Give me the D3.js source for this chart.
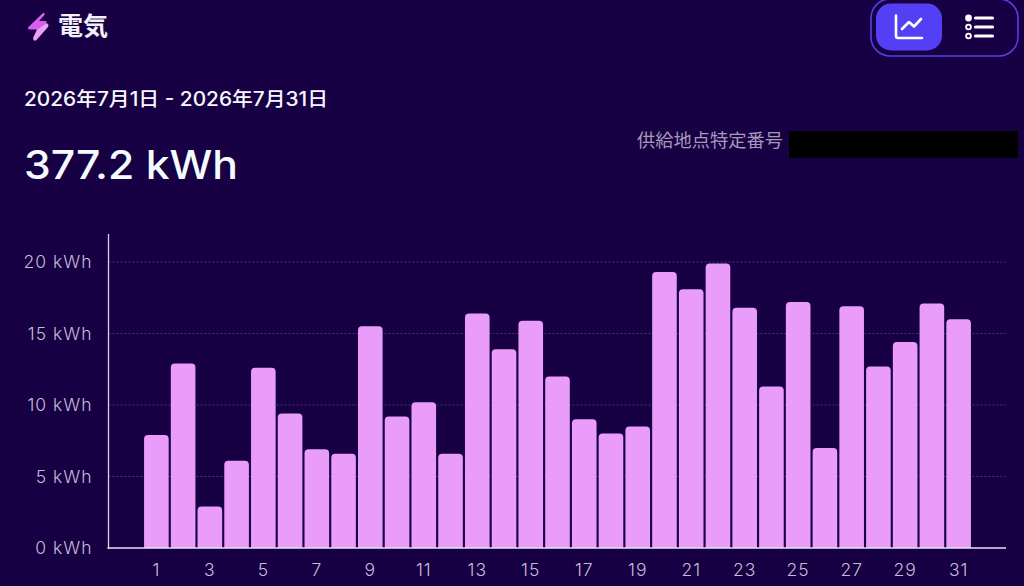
<!DOCTYPE html>
<html>
<head>
<meta charset="utf-8">
<script src="https://cdn.jsdelivr.net/npm/d3@7"></script>
<style>
  html, body { margin: 0; padding: 0; background: #180045; overflow: hidden; }
  svg { display: block; }
  text { font-family: Inter, "Noto Sans CJK JP", sans-serif; }
  .axis path, .axis line { display: none; }
  .axis text { fill: #c4bdd4; font-size: 17.5px; font-weight: 300; letter-spacing: 1px; }
</style>
</head>
<body>
<svg id="chart" width="1024" height="586"></svg>
<script>
const days = d3.range(1, 32);
const kwh = [7.9, 12.9, 2.9, 6.1, 12.6, 9.4, 6.9, 6.6, 15.5, 9.2, 10.2, 6.6, 16.4, 13.9, 15.9, 12,
  9, 8, 8.5, 19.3, 18.1, 19.9, 16.8, 11.3, 17.2, 7, 16.9, 12.7, 14.4, 17.1, 16];
const yTicks = [0, 5, 10, 15, 20];

const titleText = '電気';
const rangeText = '2026年7月1日 - 2026年7月31日';
const totalText = '377.2 kWh';
const meterText = '供給地点特定番号';

const svg = d3.select('#chart');
const plotBottom = 548, plotTop = 234, axisLeft = 108.5, axisRight = 1006;

const x = d3.scaleBand().domain(days).range([143, 972]).paddingInner(0.08).paddingOuter(0.04);
const y = d3.scaleLinear().domain([0, 21.96]).range([plotBottom, plotTop]);

// grid
svg.append('g').selectAll('line')
  .data(yTicks.filter(d => d > 0))
  .enter().append('line')
  .attr('x1', axisLeft).attr('x2', axisRight)
  .attr('y1', d => y(d)).attr('y2', d => y(d))
  .attr('stroke', '#4a3570').attr('stroke-width', 1)
  .attr('stroke-dasharray', '2,2');

// bars, top corners rounded only
svg.append('g').selectAll('path')
  .data(kwh)
  .enter().append('path')
  .attr('fill', '#ea9cfa')
  .attr('d', (d, i) => {
    const l = x(days[i]), w = x.bandwidth(), t = y(d), r = 4;
    return `M${l},${plotBottom}V${t + r}Q${l},${t} ${l + r},${t}H${l + w - r}Q${l + w},${t} ${l + w},${t + r}V${plotBottom}Z`;
  });

// axes
svg.append('g').attr('class', 'axis')
  .attr('transform', `translate(${axisLeft - 1},0)`)
  .call(d3.axisLeft(y).tickValues(yTicks).tickSize(0).tickPadding(15).tickFormat(d => d + ' kWh'));

svg.append('g').attr('class', 'axis')
  .attr('transform', `translate(0,${plotBottom})`)
  .call(d3.axisBottom(x).tickValues(days.filter(d => d % 2 === 1)).tickSize(0).tickPadding(16));

svg.append('line').attr('x1', axisLeft).attr('x2', axisLeft).attr('y1', plotTop).attr('y2', plotBottom + 1)
  .attr('stroke', '#d8d3e2').attr('stroke-width', 1.3);
svg.append('line').attr('x1', axisLeft - 1).attr('x2', axisRight).attr('y1', plotBottom).attr('y2', plotBottom)
  .attr('stroke', '#e6e2ee').attr('stroke-width', 1.5);

// header
svg.append('path')
  .attr('d', 'M43,13 L28.5,27 Q27,29.5 30,29.5 L37,29.5 L46,23 Q48,21 45,21 L39,21 L44.5,15 Q45,12 43,13 Z')
  .attr('fill', '#d65ff0');
svg.append('path')
  .attr('d', 'M37,29.5 L33,38 Q33.5,42 36.5,40 L48,27 Q49.5,24 46,23 Z')
  .attr('fill', '#ee9ffb');

svg.append('text').attr('x', 58).attr('y', 35).text(titleText)
  .attr('fill', '#f2f0f8').attr('font-size', 25).attr('font-weight', 700);
svg.append('text').attr('x', 24).attr('y', 106).text(rangeText)
  .attr('fill', '#f7f7fc').attr('font-size', 19.5).attr('font-weight', 500)
  .attr('textLength', 304).attr('lengthAdjust', 'spacingAndGlyphs');
svg.append('text').attr('x', 24).attr('y', 178.5).text(totalText)
  .attr('fill', '#f3fbff').attr('font-size', 39).attr('font-weight', 500)
  .attr('textLength', 214).attr('lengthAdjust', 'spacingAndGlyphs');
svg.append('text').attr('x', 637).attr('y', 146.5).text(meterText)
  .attr('fill', '#a49ab9').attr('font-size', 18.25);
svg.append('rect').attr('x', 789).attr('y', 131).attr('width', 229).attr('height', 27).attr('fill', '#000');

// view toggle
svg.append('rect').attr('x', 871).attr('y', -1).attr('width', 147).attr('height', 57).attr('rx', 19)
  .attr('fill', 'none').attr('stroke', '#5340e0').attr('stroke-width', 1.6);
svg.append('rect').attr('x', 876).attr('y', 3.5).attr('width', 66).attr('height', 47).attr('rx', 15)
  .attr('fill', '#5340f5');
svg.append('path').attr('d', 'M896,15.5 V36 Q896,38 898,38 H922')
  .attr('fill', 'none').attr('stroke', '#fff').attr('stroke-width', 2.6).attr('stroke-linecap', 'round');
svg.append('path').attr('d', 'M902,29 L909,22 L914,26.5 L921,19')
  .attr('fill', 'none').attr('stroke', '#fff').attr('stroke-width', 2.6)
  .attr('stroke-linecap', 'round').attr('stroke-linejoin', 'round');

const listRows = [18, 27, 36];
svg.append('g').selectAll('line').data(listRows).enter().append('line')
  .attr('x1', 975.5).attr('x2', 992.5).attr('y1', d => d).attr('y2', d => d)
  .attr('stroke', '#fff').attr('stroke-width', 3.2).attr('stroke-linecap', 'round');
svg.append('g').selectAll('circle').data(listRows).enter().append('circle')
  .attr('cx', 968.5).attr('cy', d => d).attr('r', (d, i) => i === 0 ? 3.4 : 2.4)
  .attr('fill', (d, i) => i === 0 ? '#fff' : 'none')
  .attr('stroke', '#fff').attr('stroke-width', (d, i) => i === 0 ? 0 : 1.8);
</script>
</body>
</html>
